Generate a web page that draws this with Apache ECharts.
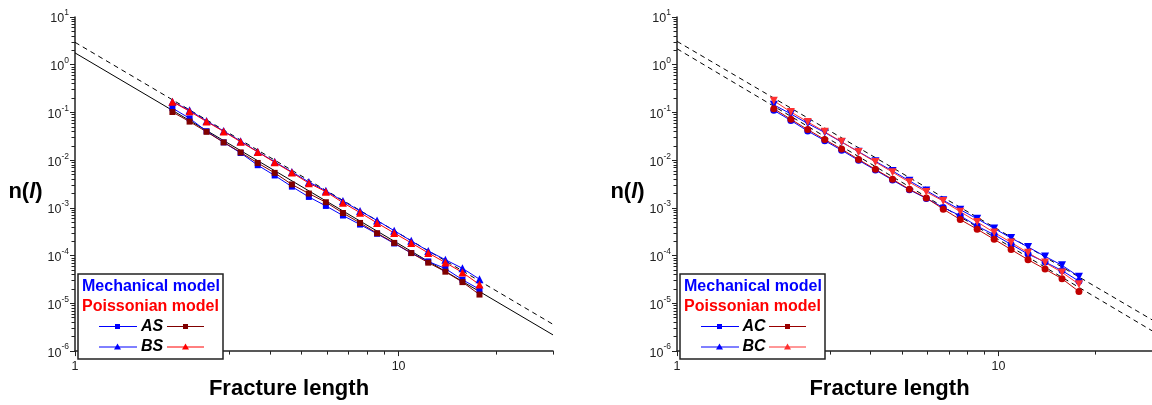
<!DOCTYPE html>
<html><head><meta charset="utf-8">
<script src="https://cdn.jsdelivr.net/npm/echarts@6/dist/echarts.min.js"></script>
<style>html,body{margin:0;padding:0;background:#fff}#c{width:1152px;height:405px}</style>
</head><body><div id="c"></div>
<script>
// ---- data ----
const xLen = [2.00, 2.26, 2.55, 2.88, 3.25, 3.67, 4.14, 4.68, 5.28, 5.96, 6.73, 7.60, 8.58, 9.69, 10.94, 12.35, 13.95, 15.75, 17.78];

const asMech = [0.1233,0.0753,0.0405,0.0236,0.01416,0.00785,0.00478,0.00279,0.00170,0.00110,0.000693,0.000448,0.000287,0.000180,0.0001133,0.0000757,0.0000535,0.0000313,0.0000197];
const asPois = [0.1023,0.0643,0.0393,0.0236,0.01456,0.00875,0.00542,0.00310,0.00200,0.001315,0.000782,0.000484,0.000295,0.000185,0.0001133,0.0000713,0.0000461,0.0000279,0.0000153];
const bsMech = [0.168,0.1107,0.0665,0.0408,0.02506,0.01504,0.00924,0.00568,0.00349,0.00228,0.00139,0.000866,0.000545,0.000334,0.000204,0.000125,0.0000822,0.0000542,0.0000321];
const bsPois = [0.168,0.1057,0.0643,0.0399,0.02427,0.01483,0.00903,0.00549,0.00330,0.00219,0.001285,0.000796,0.000484,0.000298,0.000185,0.0001138,0.0000716,0.0000444,0.0000248];

const acMech = [0.1107,0.0680,0.0408,0.02565,0.01614,0.00991,0.00622,0.00383,0.00240,0.00158,0.00102,0.000687,0.000416,0.000274,0.000172,0.000108,0.0000733,0.0000487,0.0000292];
const acPois = [0.1199,0.0719,0.0438,0.0271,0.01706,0.01038,0.00643,0.00397,0.00246,0.00162,0.000942,0.000570,0.000358,0.000220,0.000134,0.0000822,0.0000522,0.0000328,0.0000177];
const bcMech = [0.1442,0.0933,0.0586,0.0381,0.02393,0.01504,0.00946,0.00594,0.00369,0.00232,0.00144,0.000916,0.000592,0.000372,0.000234,0.000152,0.0000964,0.0000628,0.0000363];
const bcPois = [0.1762,0.1023,0.0634,0.0393,0.02427,0.01483,0.00916,0.00560,0.00345,0.00216,0.00139,0.000834,0.000508,0.000305,0.000189,0.0001148,0.0000716,0.0000446,0.0000252];

// power-law fit lines (end points at l = 1 and l = 30)
const fitX = [1, 30];
const leftFitSolid = [1.77, 2.185e-6];
const leftFitDashed = [2.95, 3.64e-6];
const rightFitUpper = [3.09, 4.53e-6];
const rightFitLower = [2.16, 2.67e-6];

const xMajorTicks = [1, 10];
const xMinorTicks = [2,3,4,5,6,7,8,9,20,30];
const yMajorTicks = [1e-6,1e-5,1e-4,1e-3,1e-2,1e-1,1,10];

const leftLegendRows = ['AS', 'BS'];
const rightLegendRows = ['AC', 'BC'];
const modelNames = ['Mechanical model', 'Poissonian model'];

// ---- build ----
const FONT = '"Liberation Sans", Arial, sans-serif';
const yMinor = [];
for (let e = -6; e < 1; e++) for (let k = 2; k <= 9; k++) yMinor.push(+(k * Math.pow(10, e)).toPrecision(3));

const pair = (xs, ys) => xs.map((x, i) => [x, ys[i]]);

const grids = [
  {left: 75, top: 17, width: 478, height: 347},
  {left: 677, top: 17, width: 478, height: 347}
];

function xAxes(g) {
  return [
    {type: 'log', logBase: 10, gridIndex: g, min: 1, max: 30, position: 'bottom',
     name: 'Fracture length', nameLocation: 'middle', nameGap: 23,
     nameTextStyle: {fontFamily: FONT, fontWeight: 'bold', fontSize: 22, color: '#000', padding: [0, 50, 0, 0]},
     axisLine: {show: true, lineStyle: {color: '#222', width: 1.5}},
     axisTick: {show: true, length: 5, customValues: xMajorTicks, lineStyle: {color: '#222', width: 1}},
     axisLabel: {show: true, customValues: xMajorTicks, margin: 9, fontFamily: FONT, fontSize: 12.5, color: '#222',
                 formatter: v => String(Math.round(v))},
     splitLine: {show: false}},
    {type: 'log', logBase: 10, gridIndex: g, min: 1, max: 30, position: 'bottom', offset: 0,
     axisLine: {show: false}, axisLabel: {show: false}, splitLine: {show: false},
     axisTick: {show: true, length: 3.5, customValues: xMinorTicks, lineStyle: {color: '#222', width: 1}}}
  ];
}
function yAxes(g) {
  return [
    {type: 'log', logBase: 10, gridIndex: g, min: 1e-6, max: 10, position: 'left',
     name: 'n({i|l})', nameLocation: 'middle', nameGap: 30, nameRotate: 0,
     nameTextStyle: {fontFamily: FONT, fontWeight: 'bold', fontSize: 22, color: '#000', align: 'right', verticalAlign: 'middle',
                     padding: [16, 0, 0, 0],
                     rich: {i: {fontFamily: FONT, fontWeight: 'bold', fontStyle: 'italic', fontSize: 22, color: '#000'}}},
     axisLine: {show: true, lineStyle: {color: '#222', width: 1.5}},
     axisTick: {show: true, length: 5, customValues: yMajorTicks, lineStyle: {color: '#222', width: 1}},
     axisLabel: {show: true, customValues: yMajorTicks, margin: 6,
                 formatter: v => '{b|10}{s|' + Math.round(Math.log10(v)) + '}',
                 rich: {b: {fontFamily: FONT, fontSize: 12.5, color: '#222', lineHeight: 17, verticalAlign: 'bottom'},
                        s: {fontFamily: FONT, fontSize: 8.5, color: '#222', lineHeight: 17, verticalAlign: 'top'}}},
     splitLine: {show: false}},
    {type: 'log', logBase: 10, gridIndex: g, min: 1e-6, max: 10, position: 'left', offset: 0,
     axisLine: {show: false}, axisLabel: {show: false}, splitLine: {show: false},
     axisTick: {show: true, length: 3.5, customValues: yMinor, lineStyle: {color: '#222', width: 1}}}
  ];
}

function dataSeries(ax, ys, color, symbol, size, rotate) {
  return {type: 'line', xAxisIndex: ax, yAxisIndex: ax, data: pair(xLen, ys), symbol: symbol, symbolSize: size,
          symbolRotate: rotate || 0, showSymbol: true, animation: false,
          lineStyle: {color: color, width: 1}, itemStyle: {color: color, borderWidth: 0}};
}
function fitSeries(ax, ys, dashed) {
  return {type: 'line', xAxisIndex: ax, yAxisIndex: ax, data: pair(fitX, ys), showSymbol: false, symbol: 'none',
          animation: false, z: 1,
          lineStyle: {color: '#000', width: 1, type: dashed ? [5, 4] : 'solid'}};
}

function legend(ox, oy, rows, c1, c2) {
  const els = [];
  els.push({type: 'rect', shape: {x: ox, y: oy, width: 145, height: 85},
            style: {fill: '#fff', stroke: '#222', lineWidth: 1.5}, z: 100});
  els.push({type: 'text', x: ox + 4, y: oy + 13, z: 101,
            style: {text: modelNames[0], fill: '#0000ff', font: 'bold 16px ' + FONT, verticalAlign: 'middle'}});
  els.push({type: 'text', x: ox + 4, y: oy + 33, z: 101,
            style: {text: modelNames[1], fill: '#ff0000', font: 'bold 16px ' + FONT, verticalAlign: 'middle'}});
  rows.forEach((r, i) => {
    const y = oy + 52.5 + i * 20.5;
    const lc = i === 0 ? c1 : c2;
    els.push({type: 'line', shape: {x1: ox + 21, y1: y, x2: ox + 59, y2: y}, style: {stroke: '#0000ff', lineWidth: 1}, z: 101});
    els.push({type: 'line', shape: {x1: ox + 89, y1: y, x2: ox + 126, y2: y}, style: {stroke: lc, lineWidth: 1}, z: 101});
    if (i === 0) {
      els.push({type: 'rect', shape: {x: ox + 37, y: y - 2.5, width: 5, height: 5}, style: {fill: '#0000ff'}, z: 102});
      els.push({type: 'rect', shape: {x: ox + 105, y: y - 2.5, width: 5, height: 5}, style: {fill: lc}, z: 102});
    } else {
      els.push({type: 'polygon', shape: {points: [[ox + 39.5, y - 3.5], [ox + 43, y + 2.5], [ox + 36, y + 2.5]]}, style: {fill: '#0000ff'}, z: 102});
      els.push({type: 'polygon', shape: {points: [[ox + 107.5, y - 3.5], [ox + 111, y + 2.5], [ox + 104, y + 2.5]]}, style: {fill: lc}, z: 102});
    }
    els.push({type: 'text', x: ox + 74, y: y, z: 101,
              style: {text: r, fill: '#000', font: 'italic bold 16px ' + FONT, align: 'center', verticalAlign: 'middle'}});
  });
  return els;
}

const xs = xAxes(0).concat(xAxes(1));
const ysAx = yAxes(0).concat(yAxes(1));

const option = {
  backgroundColor: '#fff',
  animation: false,
  grid: grids,
  xAxis: xs,
  yAxis: ysAx,
  series: [
    fitSeries(0, leftFitSolid, false),
    fitSeries(0, leftFitDashed, true),
    dataSeries(0, asMech, '#0000ff', 'rect', 6),
    dataSeries(0, bsMech, '#0000ff', 'triangle', 8),
    dataSeries(0, asPois, '#800000', 'rect', 6),
    dataSeries(0, bsPois, '#ff0000', 'triangle', 8),
    fitSeries(2, rightFitUpper, true),
    fitSeries(2, rightFitLower, true),
    dataSeries(2, acMech, '#0000ff', 'circle', 7),
    dataSeries(2, bcMech, '#0000ff', 'triangle', 8, 180),
    dataSeries(2, acPois, '#c00000', 'circle', 7),
    dataSeries(2, bcPois, '#ff3030', 'triangle', 8, 180)
  ],
  graphic: legend(78, 274, leftLegendRows, '#800000', '#ff0000').concat(legend(680, 274, rightLegendRows, '#990000', '#ff3030'))
};

const chart = echarts.init(document.getElementById('c'), null, {renderer: 'canvas'});
chart.setOption(option);
</script>
</body></html>
